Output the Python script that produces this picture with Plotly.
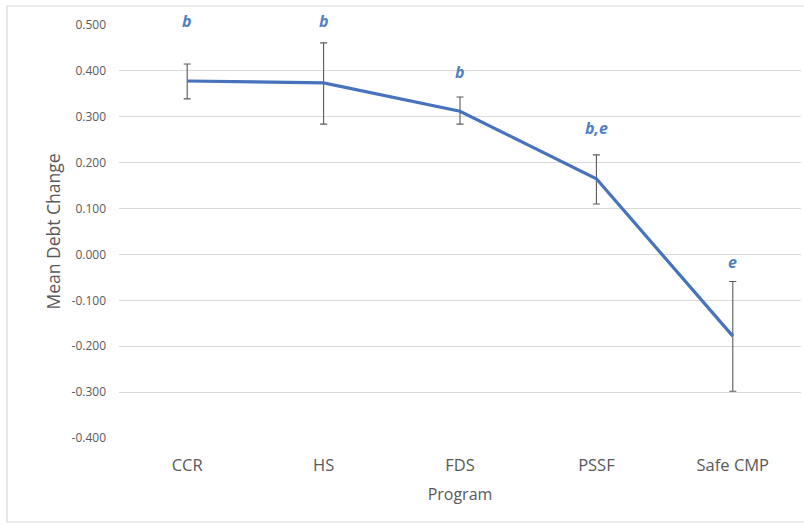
import plotly.graph_objects as go

# Mean debt change by program, with error bar limits and significance letters
programs = ["CCR", "HS", "FDS", "PSSF", "Safe CMP"]
mean_change = [0.378, 0.374, 0.312, 0.165, -0.178]
err_upper = [0.415, 0.461, 0.343, 0.217, -0.059]
err_lower = [0.339, 0.284, 0.284, 0.110, -0.298]
group_letters = ["b", "b", "b", "b,e", "e"]
letter_y = [0.508, 0.508, 0.398, 0.275, -0.016]
y_ticks = [0.5, 0.4, 0.3, 0.2, 0.1, 0.0, -0.1, -0.2, -0.3, -0.4]
y_tick_text = [f"{v:.3f}" for v in y_ticks]

plus = [u - m for u, m in zip(err_upper, mean_change)]
minus = [m - l for m, l in zip(mean_change, err_lower)]

LINE_BLUE = "#4673BC"
LETTER_BLUE = "#4F7FC6"
TEXT_GREY = "#595959"
FONT = "Open Sans"

W, H = 804, 531
L, R, T, B = 119, 3, 25, 93
pw, ph = W - L - R, H - T - B
Y_MIN, Y_MAX = -0.4, 0.5
xs = list(range(len(programs)))

fig = go.Figure()
fig.add_trace(go.Scatter(
    x=xs,
    y=mean_change,
    mode="lines",
    line=dict(color=LINE_BLUE, width=3.2),
    error_y=dict(type="data", symmetric=False, array=plus, arrayminus=minus,
                 color="#595959", thickness=1.1, width=3.5),
    showlegend=False,
    hoverinfo="skip",
))

# significance group letters above each point (paper y so they may sit above the axis top)
for i, (lab, ly) in enumerate(zip(group_letters, letter_y)):
    fig.add_annotation(
        x=i, xref="x", y=(ly - Y_MIN) / (Y_MAX - Y_MIN), yref="paper",
        text=f"<b><i>{lab}</i></b>", showarrow=False,
        font=dict(family=FONT, size=16, color=LETTER_BLUE),
        xanchor="center", yanchor="middle",
    )

# outer chart frame
fig.add_shape(type="rect", xref="paper", yref="paper",
              x0=(7 - L) / pw, x1=(W + 20 - L) / pw,
              y0=-(522 - (H - B)) / ph, y1=1 + (T - 6) / ph,
              line=dict(color="#D9D9D9", width=1.2), fillcolor="rgba(0,0,0,0)",
              layer="below")

fig.update_layout(
    width=W, height=H,
    margin=dict(l=L, r=R, t=T, b=B),
    paper_bgcolor="white", plot_bgcolor="white",
    font=dict(family=FONT, color=TEXT_GREY),
    xaxis=dict(
        tickmode="array", tickvals=xs, ticktext=programs,
        range=[-0.5, len(programs) - 0.5],
        showgrid=False, zeroline=False, showline=False, ticks="",
        tickfont=dict(family=FONT, size=16.5, color=TEXT_GREY),
        ticklabelstandoff=15,
        title=dict(text="Program", font=dict(family=FONT, size=16, color=TEXT_GREY),
                   standoff=14),
    ),
    yaxis=dict(
        range=[Y_MIN, Y_MAX], tickmode="array", tickvals=y_ticks, ticktext=y_tick_text,
        showgrid=True, gridcolor="#D9D9D9", gridwidth=1,
        zeroline=False, showline=False, ticks="",
        tickfont=dict(family=FONT, size=12, color=TEXT_GREY),
        ticklabelstandoff=12,
        title=dict(text="Mean Debt Change", font=dict(family=FONT, size=17.5, color=TEXT_GREY),
                   standoff=6),
    ),
)

fig.write_html("out.html")
